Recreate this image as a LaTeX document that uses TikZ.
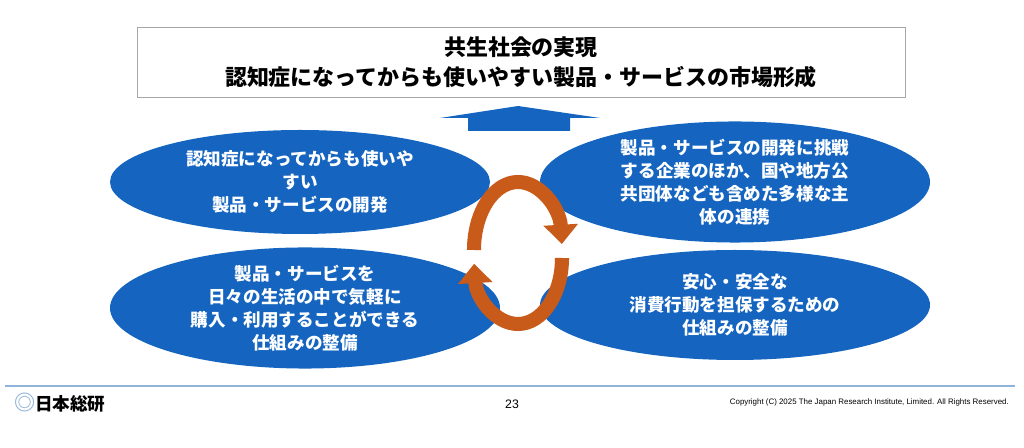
\documentclass[tikz,border=0pt]{standalone}
\usepackage{fontspec}
\setmainfont{Noto Sans CJK JP}
\newfontfamily\latinfont{Liberation Sans}
\usetikzlibrary{arrows.meta,shapes.geometric}
\definecolor{bubblecol}{HTML}{1565C0}
\definecolor{cycle}{HTML}{C85A1A}
\definecolor{rule}{HTML}{8FB3D9}
\tikzset{bubble/.style={ellipse, fill=bubblecol, text=white, align=center, inner sep=0pt, font=\fontsize{10}{13}\selectfont\bfseries},
  cyc/.style={draw=cycle, line width=8pt, -{Triangle[width=19pt,length=11pt]}}}
\begin{document}
\begin{tikzpicture}[x=0.02cm,y=-0.02cm]
	\useasboundingbox (0,0) rectangle (1024,448);
	% goal box
	\node (goal) [draw=gray!70, minimum width=768*0.02cm, minimum height=70*0.02cm, align=center,
	  font=\fontsize{12.5}{17}\selectfont\bfseries] at (521,62) {共生社会の実現\\認知症になってからも使いやすい製品・サービスの市場形成};
	\fill[bubblecol] (468,131) -- (468,118) -- (440,118) -- (518,106) -- (600,118) -- (570,118) -- (570,131) -- cycle;

	% four fields
	\node (dev) [bubble, minimum width=380*0.02cm, minimum height=104*0.02cm] at (300,182) {認知症になってからも使いや\\すい\\製品・サービスの開発};
	\node (team) [bubble, minimum width=390*0.02cm, minimum height=104*0.02cm] at (735,182) {製品・サービスの開発に挑戦\\する企業のほか、国や地方公\\共団体なども含めた多様な主\\体の連携};
	\node (buy) [bubble, minimum width=390*0.02cm, minimum height=110*0.02cm] at (305,308) {製品・サービスを\\日々の生活の中で気軽に\\購入・利用することができる\\仕組みの整備};
	\node (safe) [bubble, minimum width=390*0.02cm, minimum height=110*0.02cm] at (735,305) {安心・安全な\\消費行動を担保するための\\仕組みの整備};

	% cycle
	\coordinate (ring) at (518,254);
	\draw[cyc] (474,250) arc[start angle=180, end angle=5, x radius=44, y radius=-68];
	\draw[cyc] (562,258) arc[start angle=0, end angle=-175, x radius=44, y radius=-66];

	% footer
	\draw[rule, thick] (5,386) -- (1015,386);
	\node (logo) [anchor=west, font=\fontsize{10}{12}\selectfont\bfseries] at (8,403) {\textcolor{rule}{\large ◎}日本総研};
	\node (page) [font=\latinfont\fontsize{7}{8}\selectfont] at (512,404) {23};
	\node (copy) [anchor=east, font=\latinfont\fontsize{4.5}{5}\selectfont] at (1015,402) {Copyright (C) 2025 The Japan Research Institute, Limited. All Rights Reserved.};
\end{tikzpicture}
\end{document}
